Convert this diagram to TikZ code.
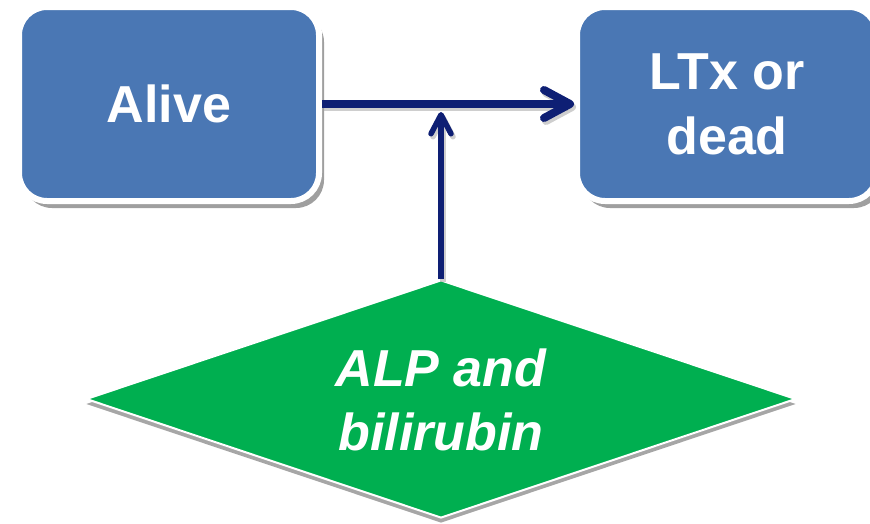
\documentclass[tikz,border=0pt]{standalone}
\usepackage{fontspec}
\setmainfont{Liberation Sans}
\usetikzlibrary{shapes.geometric,arrows.meta,shadows}
\definecolor{boxblue}{HTML}{4A77B4}
\definecolor{navy}{HTML}{0E1F74}
\definecolor{dgreen}{HTML}{00AF50}
\begin{document}
\begin{tikzpicture}[x=1pt,y=-1pt,
  box/.style={rectangle, rounded corners=28pt, fill=boxblue, draw=white, line width=6pt,
    minimum width=300pt, minimum height=194pt, inner sep=0pt, text=white,
    font=\fontsize{52}{65}\selectfont\bfseries, align=center,
    drop shadow={shadow xshift=5pt, shadow yshift=-7pt, fill=gray!75, opacity=1}},
  dia/.style={diamond, fill=dgreen, draw=white, line width=2pt, inner sep=0pt,
    minimum width=710pt, minimum height=238pt,
    drop shadow={shadow xshift=0pt, shadow yshift=-5pt, fill=gray!70, opacity=1}},
  dtextstyle/.style={text=white, font=\fontsize{52}{64}\selectfont\bfseries\itshape, align=center},
  conn/.style={draw=navy, line width=#1},
  connshadow/.style={draw=gray!70, opacity=0.55, line width=#1},
  bigtip/.style={-{Straight Barb[length=26pt,width=28pt,round]}},
  smalltip/.style={-{Straight Barb[length=19pt,width=20pt,round]}}
]
\useasboundingbox (0,0) rectangle (870,523);

\node[box] (alive) at (169,104) {Alive};
\node[box] (ltx) at (727,104) {LTx or\\dead};
\node[dia] (dmd) at (441,399) {};
\node[dtextstyle] (dtext) at (441,400) {ALP and\\bilirubin};

\coordinate (j) at (441,112);

\draw[connshadow=8pt, bigtip] ([shift={(2,3)}]alive.east) -- ([shift={(2,3)}]ltx.west);
\draw[connshadow=5.5pt, smalltip] ([shift={(2,3)}]dmd.north) -- ([shift={(2,3)}]j);
\draw[conn=8pt, bigtip] (alive.east) -- (ltx.west);
\draw[conn=5.5pt, smalltip] (dmd.north) -- (j);
\end{tikzpicture}
\end{document}
